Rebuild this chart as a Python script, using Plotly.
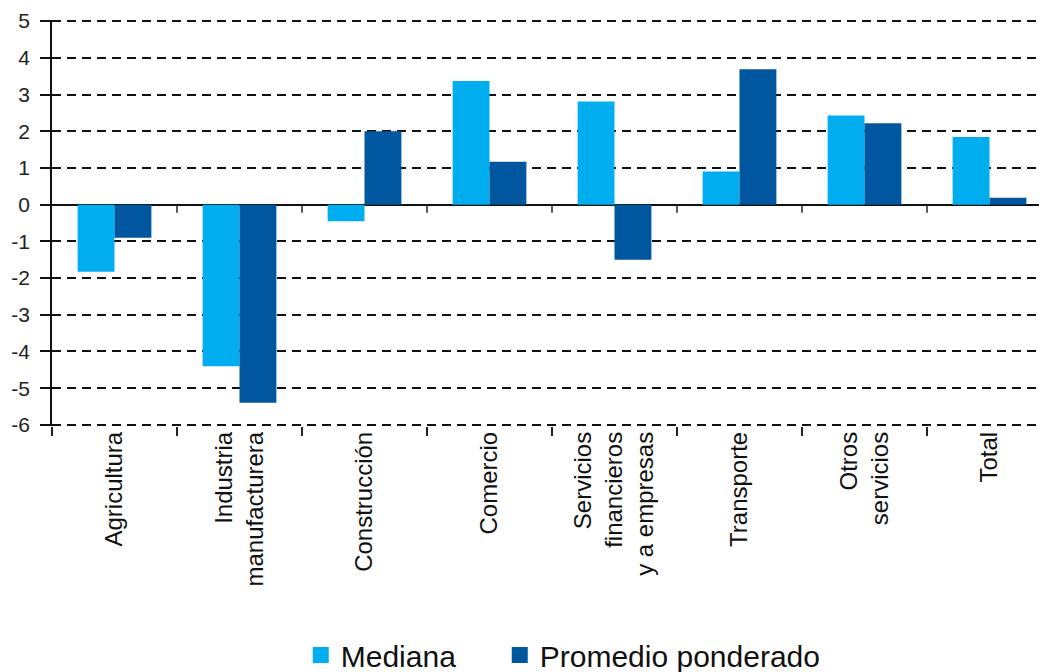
import plotly.graph_objects as go

categorias = [
    "Agricultura",
    "Industria<br>manufacturera",
    "Construcción",
    "Comercio",
    "Servicios<br>financieros<br>y a empresas",
    "Transporte",
    "Otros<br>servicios",
    "Total",
]
mediana = [-1.83, -4.4, -0.45, 3.37, 2.81, 0.9, 2.43, 1.84]
promedio_ponderado = [-0.9, -5.4, 2.0, 1.17, -1.5, 3.69, 2.22, 0.19]
y_ticks = list(range(-6, 6))

CLARO = "#00AEEF"
OSCURO = "#0057A0"

fig = go.Figure()
fig.add_trace(go.Bar(x=categorias, y=mediana, name="Mediana", showlegend=False,
                     marker=dict(color=CLARO, line=dict(width=0))))
fig.add_trace(go.Bar(x=categorias, y=promedio_ponderado, name="Promedio ponderado",
                     showlegend=False, marker=dict(color=OSCURO, line=dict(width=0))))
# legend entries with bigger square symbols, one legend box each
for nombre, color, leg in [("Mediana", CLARO, "legend"), ("Promedio ponderado", OSCURO, "legend2")]:
    fig.add_trace(go.Scatter(x=[None], y=[None], mode="markers", name=nombre, legend=leg,
                             marker=dict(symbol="square", size=26, color=color)))

# small ticks on the zero line between categories
for i in range(len(categorias) - 1):
    fig.add_shape(type="line", xref="x", yref="y", x0=i + 0.5, x1=i + 0.5,
                  y0=0, y1=-0.22, line=dict(color="#222", width=1.5))

leg_font = dict(family="Liberation Sans, Arial", size=30, color="#111")
fig.update_layout(
    width=1039, height=690,
    margin=dict(l=44, r=0, t=12, b=272),
    plot_bgcolor="white", paper_bgcolor="white",
    barmode="group", bargap=0.41, bargroupgap=0,
    font=dict(family="Liberation Sans, Arial, sans-serif", color="#111"),
    showlegend=True,
    legend=dict(x=0.25, xanchor="left", y=-0.564, yanchor="middle", font=leg_font,
                itemsizing="trace", itemwidth=30, bgcolor="rgba(0,0,0,0)"),
    legend2=dict(x=0.45, xanchor="left", y=-0.564, yanchor="middle", font=leg_font,
                 itemsizing="trace", itemwidth=30, bgcolor="rgba(0,0,0,0)"),
)
fig.update_xaxes(
    range=[-0.5, 7.46], tickangle=-90, tickson="boundaries", automargin=False,
    ticks="outside", ticklen=9, tickwidth=1.5, tickcolor="#222",
    showline=False, showgrid=False, zeroline=False,
    tickfont=dict(size=24, color="#111"),
)
fig.update_yaxes(
    range=[-6.03, 5.03], tickvals=y_ticks, ticktext=[str(v) for v in y_ticks],
    automargin=False,
    showgrid=True, gridcolor="#111", gridwidth=1.5, griddash="9px,6px",
    zeroline=True, zerolinecolor="#111", zerolinewidth=1.5,
    showline=True, linecolor="#111", linewidth=1.5,
    ticks="outside", ticklen=10, tickwidth=1.5, tickcolor="#111",
    ticklabelstandoff=6,
    tickfont=dict(size=21, color="#222"),
)

fig.write_html("out.html")
